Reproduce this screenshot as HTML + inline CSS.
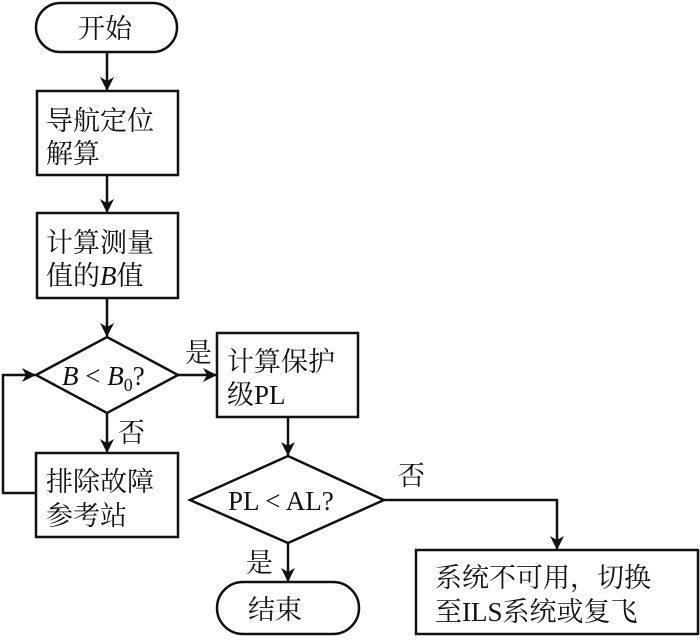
<!DOCTYPE html>
<html><head><meta charset="utf-8"><style>
body{margin:0;width:700px;height:636px;background:#fff;overflow:hidden}
svg text{font-family:"Liberation Serif","Noto Serif CJK SC","Noto Sans CJK SC",serif;font-size:27px;fill:#111}
</style></head><body>
<svg width="700" height="636" viewBox="0 0 700 636" xmlns="http://www.w3.org/2000/svg">
<defs><marker id="a" markerWidth="14" markerHeight="16" refX="13" refY="7" orient="auto" markerUnits="userSpaceOnUse"><path d="M0,0 L14,7 L0,14 L4,7 Z" fill="#111"/></marker></defs>
<g stroke="#111" stroke-width="2.5" fill="none">
<rect x="36" y="3" width="141" height="49" rx="24.5"/>
<rect x="37" y="91" width="141" height="84"/>
<rect x="37" y="213" width="141" height="85"/>
<polygon points="36,375 107,337 178,375 107,413"/>
<rect x="36" y="453" width="142" height="84"/>
<rect x="217" y="333" width="141" height="84"/>
<polygon points="190,500 288,456 384,500 288,543"/>
<rect x="416" y="550" width="282" height="84"/>
<rect x="217" y="582" width="142" height="52" rx="26"/>
<line x1="107" y1="52" x2="107" y2="90" marker-end="url(#a)"/>
<line x1="107" y1="175" x2="107" y2="212" marker-end="url(#a)"/>
<line x1="107" y1="298" x2="107" y2="336" marker-end="url(#a)"/>
<line x1="107" y1="413" x2="107" y2="452" marker-end="url(#a)"/>
<polyline points="36,493 3,493 3,375 35,375" marker-end="url(#a)"/>
<line x1="178" y1="375" x2="216" y2="375" marker-end="url(#a)"/>
<line x1="288" y1="417" x2="288" y2="455" marker-end="url(#a)"/>
<line x1="288" y1="543" x2="288" y2="581" marker-end="url(#a)"/>
<polyline points="384,500 557,500 557,549" marker-end="url(#a)"/>
</g>
<text x="78" y="38">开始</text>
<text x="46" y="130">导航定位</text>
<text x="46" y="163">解算</text>
<text x="46" y="252">计算测量</text>
<text x="46" y="285">值的<tspan font-style="italic">B</tspan>值</text>
<text x="62" y="385"><tspan font-style="italic">B</tspan> &lt; <tspan font-style="italic">B</tspan><tspan font-size="18" dy="6">0</tspan><tspan dy="-6">?</tspan></text>
<text x="46" y="491">排除故障</text>
<text x="46" y="525">参考站</text>
<text x="227" y="371">计算保护</text>
<text x="227" y="404">级PL</text>
<text x="228" y="510">PL &lt; AL?</text>
<text x="435" y="587">系统不可用，切换</text>
<text x="435" y="621">至ILS系统或复飞</text>
<text x="248" y="619">结束</text>
<text x="185" y="362">是</text>
<text x="118" y="442">否</text>
<text x="398" y="485">否</text>
<text x="246" y="572">是</text>
</svg>
</body></html>
